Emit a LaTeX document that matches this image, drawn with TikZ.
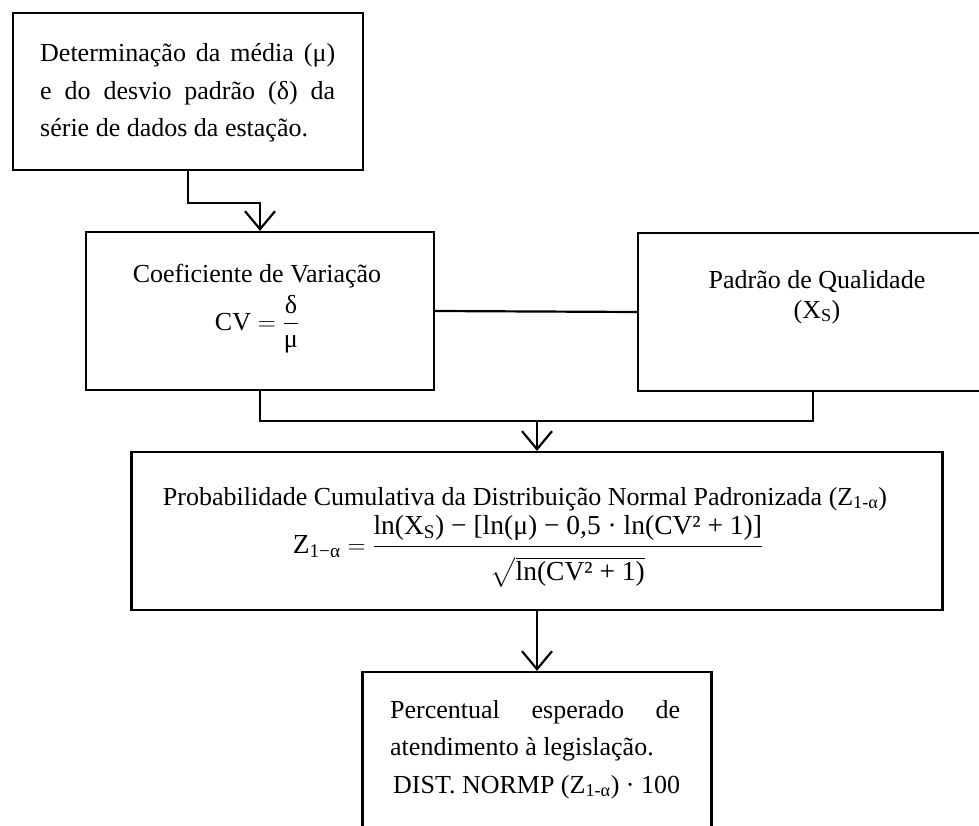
\documentclass[tikz,border=0pt]{standalone}
\usepackage{fontspec}
\setmainfont{Liberation Serif}
\usepackage{amsmath}
\usetikzlibrary{arrows.meta}

\begin{document}
\begin{tikzpicture}[x=1pt,y=-1pt,
  box/.style={draw, line width=2.2pt, inner sep=0pt},
  txt/.style={font=\fontsize{26}{37.5}\selectfont, inner sep=0pt},
  eqn/.style={font=\fontsize{27.5}{33}\selectfont, inner sep=0pt},
  link/.style={line width=2.2pt},
  arr/.style={link, -{Straight Barb[length=18pt,width=30pt,line width=2.2pt]}}
]
% page area
\clip (0,0) rectangle (979,826);
\fill[white] (0,0) rectangle (979,826);

% boxes
\node[box, minimum width=350pt, minimum height=157pt] (dados) at (188,91.5) {};
\node[box, minimum width=348pt, minimum height=158pt] (cv) at (260,311) {};
\node[box, minimum width=350pt, minimum height=158pt] (pq) at (813,312) {};
\node[box, minimum width=811pt, minimum height=158pt] (prob) at (537,531) {};
\node[box, minimum width=349pt, minimum height=178pt] (perc) at (537,761) {};

% texts (multi-line nodes sit on the baseline of their last line)
\node[txt, align=left, anchor=base west] (dadosT) at (40,137)
  {\makebox[295pt][s]{Determinação da média (μ)}\\
   \makebox[295pt][s]{e do desvio padrão (δ) da}\\
   série de dados da estação.};
\node[txt, anchor=base] (cvT) at (257,283) {Coeficiente de Variação};
\node[txt, anchor=base] (cvF) at (257,330) {$\text{CV} = \dfrac{\text{δ}}{\text{μ}}$};
\node[txt, align=center, anchor=base] (pqT) at (817,318)
  {Padrão de Qualidade\\[-7.5pt](X\textsubscript{S})};
\node[txt, anchor=base] (probT) at (525,505)
  {Probabilidade Cumulativa da Distribuição Normal Padronizada (Z\textsubscript{1-α})};
\node[eqn, anchor=base] (probF) at (528,553)
  {$\text{Z}_{\text{1−α}} = \dfrac{\rule[-9pt]{0pt}{9pt}\text{ln(X\textsubscript{S}) − [ln(μ) − 0,5 · ln(CV² + 1)]}}{\rule{0pt}{30pt}\sqrt{\text{ln(CV² + 1)}}}$};
\node[txt, align=left, anchor=base west] (percT) at (390,793)
  {\makebox[290pt][s]{Percentual esperado de}\\
   atendimento à legislação.\\
   \hspace*{3pt}DIST. NORMP (Z\textsubscript{1-α}) · 100};

% connectors
\coordinate (join) at (537,421);
\draw[arr] (dados.south) -- ++(0,32) -| (cv.north);
\draw[link] (cv.east) -- (pq.west);
\draw[link] (cv.south) |- (join) -| (pq.south);
\draw[arr] (join) -- (prob.north);
\draw[arr] (prob.south) -- (perc.north);
\end{tikzpicture}
\end{document}
